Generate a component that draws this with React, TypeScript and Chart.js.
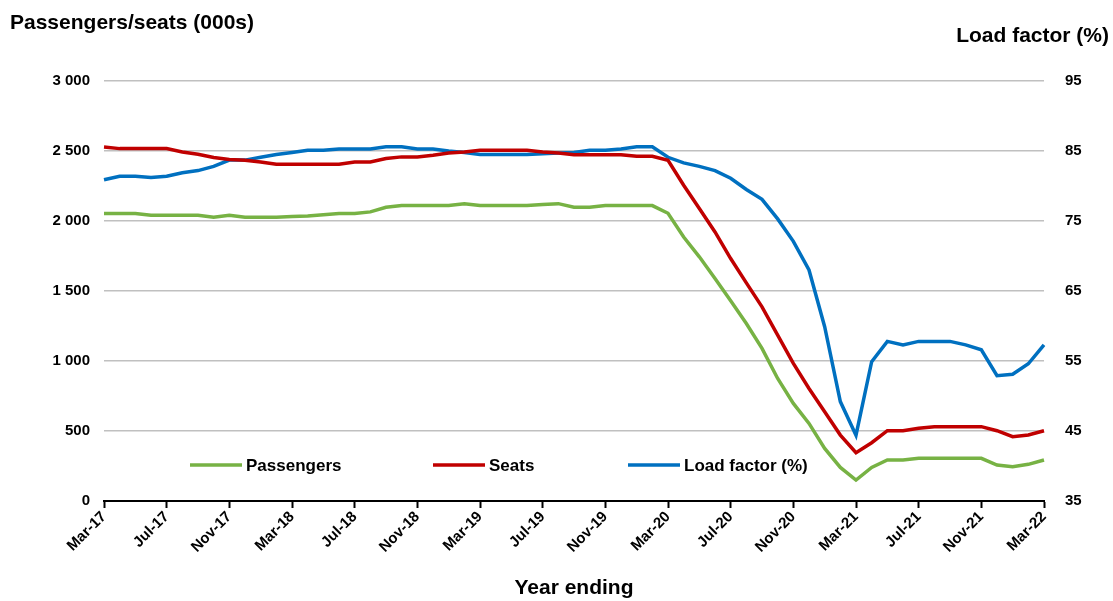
import { useEffect, useRef } from 'react';
import { Chart, registerables } from 'chart.js';

Chart.register(...registerables);

const months = [
  'Mar-17', 'Apr-17', 'May-17', 'Jun-17', 'Jul-17', 'Aug-17', 'Sep-17', 'Oct-17', 'Nov-17', 'Dec-17', 'Jan-18', 'Feb-18',
  'Mar-18', 'Apr-18', 'May-18', 'Jun-18', 'Jul-18', 'Aug-18', 'Sep-18', 'Oct-18', 'Nov-18', 'Dec-18', 'Jan-19', 'Feb-19',
  'Mar-19', 'Apr-19', 'May-19', 'Jun-19', 'Jul-19', 'Aug-19', 'Sep-19', 'Oct-19', 'Nov-19', 'Dec-19', 'Jan-20', 'Feb-20',
  'Mar-20', 'Apr-20', 'May-20', 'Jun-20', 'Jul-20', 'Aug-20', 'Sep-20', 'Oct-20', 'Nov-20', 'Dec-20', 'Jan-21', 'Feb-21',
  'Mar-21', 'Apr-21', 'May-21', 'Jun-21', 'Jul-21', 'Aug-21', 'Sep-21', 'Oct-21', 'Nov-21', 'Dec-21', 'Jan-22', 'Feb-22',
  'Mar-22',
];

const passengers = [
  2053, 2053, 2053, 2041, 2041, 2041, 2041, 2027, 2041, 2027, 2027, 2027,
  2032, 2036, 2044, 2053, 2053, 2065, 2098, 2110, 2110, 2110, 2110, 2124,
  2110, 2110, 2110, 2110, 2117, 2124, 2098, 2098, 2110, 2110, 2110, 2110,
  2055, 1886, 1744, 1589, 1430, 1268, 1090, 875, 697, 554, 376, 240,
  150, 240, 293, 293, 305, 305, 305, 305, 305, 257, 245, 262,
  293,
];

const seats = [
  2529, 2517, 2517, 2517, 2517, 2493, 2477, 2453, 2439, 2434, 2422, 2405,
  2405, 2405, 2405, 2405, 2422, 2422, 2446, 2458, 2458, 2470, 2486, 2493,
  2505, 2505, 2505, 2505, 2493, 2486, 2474, 2474, 2474, 2474, 2462, 2462,
  2434, 2255, 2089, 1922, 1732, 1558, 1387, 1185, 983, 804, 638, 471,
  345, 416, 502, 502, 519, 531, 531, 531, 531, 502, 459, 471,
  502,
];

const loadFactor = [
  80.9, 81.4, 81.4, 81.2, 81.4, 81.9, 82.2, 82.8, 83.7, 83.7, 84.1, 84.5,
  84.8, 85.1, 85.1, 85.3, 85.3, 85.3, 85.6, 85.6, 85.3, 85.3, 85.0, 84.8,
  84.5, 84.5, 84.5, 84.5, 84.6, 84.7, 84.8, 85.1, 85.1, 85.3, 85.6, 85.6,
  84.1, 83.3, 82.8, 82.2, 81.1, 79.5, 78.1, 75.3, 72.1, 68.0, 59.9, 49.2,
  44.4, 54.9, 57.8, 57.3, 57.8, 57.8, 57.8, 57.3, 56.6, 52.9, 53.1, 54.6,
  57.3,
];

const seriesNames = ['Passengers', 'Seats', 'Load factor (%)'];
const seriesColors = ['#77B244', '#C00000', '#0070C0'];
const leftTitle = 'Passengers/seats (000s)';
const rightTitle = 'Load factor (%)';
const xTitle = 'Year ending';

const FONT = "'Liberation Sans', Arial, sans-serif";

const annotationPlugin = {
  id: 'annot',
  afterDraw(chart: any) {
    const ctx = chart.ctx;
    ctx.save();
    ctx.fillStyle = '#000';
    ctx.font = `bold 21px ${FONT}`;
    ctx.textBaseline = 'middle';
    ctx.textAlign = 'left';
    ctx.fillText(leftTitle, 10, 23);
    ctx.textAlign = 'right';
    ctx.fillText(rightTitle, 1109, 36);

    // legend inside chart area
    const legendX = [190, 433, 628];
    const y = 465;
    ctx.font = `bold 17px ${FONT}`;
    ctx.textAlign = 'left';
    chart.data.datasets.forEach((ds: any, i: number) => {
      const x = legendX[i];
      ctx.strokeStyle = ds.borderColor;
      ctx.lineWidth = 3.5;
      ctx.beginPath();
      ctx.moveTo(x, y);
      ctx.lineTo(x + 52, y);
      ctx.stroke();
      ctx.fillStyle = '#000';
      ctx.fillText(ds.label, x + 56, y + 1);
    });
    ctx.restore();
  },
};

function fmtThousands(v: number) {
  const s = String(Math.round(v));
  return s.replace(/\B(?=(\d{3})+(?!\d))/g, ' ');
}

export default function App() {
  const canvasRef = useRef<HTMLCanvasElement | null>(null);

  useEffect(() => {
    document.body.style.margin = '0';
    const canvas = canvasRef.current;
    if (!canvas) return;
    const chart = new Chart(canvas, {
      type: 'line',
      data: {
        labels: months,
        datasets: [
          {
            label: seriesNames[0],
            data: passengers,
            borderColor: seriesColors[0],
            backgroundColor: seriesColors[0],
            borderWidth: 3.5,
            pointRadius: 0,
            tension: 0,
            yAxisID: 'y',
          },
          {
            label: seriesNames[1],
            data: seats,
            borderColor: seriesColors[1],
            backgroundColor: seriesColors[1],
            borderWidth: 3.5,
            pointRadius: 0,
            tension: 0,
            yAxisID: 'y',
          },
          {
            label: seriesNames[2],
            data: loadFactor,
            borderColor: seriesColors[2],
            backgroundColor: seriesColors[2],
            borderWidth: 3.5,
            pointRadius: 0,
            tension: 0,
            yAxisID: 'y1',
          },
        ],
      },
      options: {
        animation: false,
        responsive: true,
        maintainAspectRatio: false,
        layout: { padding: { top: 81, left: 0, right: 0, bottom: 0 } },
        plugins: {
          legend: { display: false },
          title: { display: false },
          tooltip: { enabled: false },
        },
        scales: {
          x: {
            type: 'category',
            offset: false,
            border: { display: true, color: '#000', width: 2 },
            grid: {
              drawOnChartArea: false,
              drawTicks: true,
              tickLength: 7,
              tickWidth: 2,
              tickColor: (ctx: any) => (ctx.index % 4 === 0 ? '#000' : 'rgba(0,0,0,0)'),
            },
            ticks: {
              autoSkip: false,
              maxRotation: 45,
              minRotation: 45,
              padding: 0,
              color: '#000',
              font: { family: FONT, size: 15, weight: 'bold' },
              callback: (_v: any, i: number) => (i % 4 === 0 ? months[i] : ''),
            },
            title: {
              display: true,
              text: xTitle,
              color: '#000',
              font: { family: FONT, size: 21, weight: 'bold' },
              padding: { top: 0, bottom: 0 },
            },
            afterFit: (scale: any) => {
              scale.height = 100;
            },
          },
          y: {
            type: 'linear',
            position: 'left',
            min: 0,
            max: 3000,
            border: { display: false },
            grid: {
              drawTicks: false,
              lineWidth: 1.5,
              color: (ctx: any) => (ctx.tick && ctx.tick.value === 0 ? 'rgba(0,0,0,0)' : '#C0C0C0'),
            },
            ticks: {
              stepSize: 500,
              padding: 14,
              color: '#000',
              font: { family: FONT, size: 15, weight: 'bold' },
              callback: (v: any) => fmtThousands(Number(v)),
            },
            afterFit: (scale: any) => {
              scale.width = 104;
            },
          },
          y1: {
            type: 'linear',
            position: 'right',
            min: 35,
            max: 95,
            border: { display: false },
            grid: { display: false, drawOnChartArea: false },
            ticks: {
              stepSize: 10,
              padding: 13,
              color: '#000',
              font: { family: FONT, size: 15, weight: 'bold' },
            },
            afterFit: (scale: any) => {
              scale.width = 69;
            },
          },
        },
      } as any,
      plugins: [annotationPlugin],
    });
    return () => {
      chart.destroy();
    };
  }, []);

  return (
    <div style={{ position: 'relative', width: '1113px', height: '601px', background: '#fff' }}>
      <canvas ref={canvasRef} />
    </div>
  );
}
